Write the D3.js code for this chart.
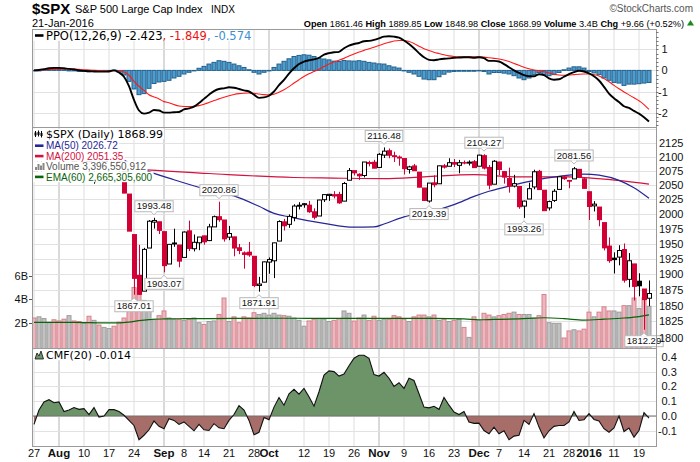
<!DOCTYPE html>
<html><head><meta charset="utf-8">
<script src="https://cdn.jsdelivr.net/npm/d3@7"></script>
<style>body{margin:0;background:#fff}svg{display:block}</style>
</head><body>
<svg id="chart" width="700" height="462"></svg>
<script>
const dates = [
"2015-07-27","2015-07-28","2015-07-29","2015-07-30","2015-07-31",
"2015-08-03","2015-08-04","2015-08-05","2015-08-06","2015-08-07","2015-08-10","2015-08-11","2015-08-12","2015-08-13","2015-08-14","2015-08-17","2015-08-18","2015-08-19","2015-08-20","2015-08-21","2015-08-24","2015-08-25","2015-08-26","2015-08-27","2015-08-28","2015-08-31",
"2015-09-01","2015-09-02","2015-09-03","2015-09-04","2015-09-08","2015-09-09","2015-09-10","2015-09-11","2015-09-14","2015-09-15","2015-09-16","2015-09-17","2015-09-18","2015-09-21","2015-09-22","2015-09-23","2015-09-24","2015-09-25","2015-09-28","2015-09-29","2015-09-30",
"2015-10-01","2015-10-02","2015-10-05","2015-10-06","2015-10-07","2015-10-08","2015-10-09","2015-10-12","2015-10-13","2015-10-14","2015-10-15","2015-10-16","2015-10-19","2015-10-20","2015-10-21","2015-10-22","2015-10-23","2015-10-26","2015-10-27","2015-10-28","2015-10-29","2015-10-30",
"2015-11-02","2015-11-03","2015-11-04","2015-11-05","2015-11-06","2015-11-09","2015-11-10","2015-11-11","2015-11-12","2015-11-13","2015-11-16","2015-11-17","2015-11-18","2015-11-19","2015-11-20","2015-11-23","2015-11-24","2015-11-25","2015-11-27","2015-11-30",
"2015-12-01","2015-12-02","2015-12-03","2015-12-04","2015-12-07","2015-12-08","2015-12-09","2015-12-10","2015-12-11","2015-12-14","2015-12-15","2015-12-16","2015-12-17","2015-12-18","2015-12-21","2015-12-22","2015-12-23","2015-12-24","2015-12-28","2015-12-29","2015-12-30","2015-12-31",
"2016-01-04","2016-01-05","2016-01-06","2016-01-07","2016-01-08","2016-01-11","2016-01-12","2016-01-13","2016-01-14","2016-01-15","2016-01-19","2016-01-20","2016-01-21"];

const open = [2078.19,2070.75,2094.70,2106.78,2111.60,
2104.49,2097.68,2095.27,2100.75,2082.61,2080.98,2102.66,2081.10,2086.19,2083.15,2089.70,2101.99,2095.69,2076.61,2034.08,1965.15,1898.08,1872.75,1942.77,1986.06,1986.73,
1970.09,1916.52,1950.79,1947.76,1927.30,1971.45,1941.59,1951.45,1963.06,1955.10,1978.02,1995.33,1989.66,1960.84,1961.39,1943.24,1934.81,1935.93,1929.18,1881.90,1887.14,
1919.65,1921.77,1954.33,1986.63,1982.34,1994.01,2013.73,2015.65,2015.00,2003.66,1996.47,2024.37,2031.73,2033.13,2033.47,2021.88,2058.19,2075.08,2068.75,2066.48,2088.35,2090.00,
2080.76,2102.63,2110.60,2101.68,2098.60,2096.56,2077.19,2083.41,2072.29,2044.64,2022.08,2053.67,2051.99,2083.70,2082.82,2089.41,2084.42,2089.30,2088.82,2090.95,
2082.93,2101.71,2080.71,2051.24,2090.42,2073.39,2061.17,2047.93,2047.27,2013.37,2025.55,2046.50,2073.76,2040.81,2010.27,2023.15,2042.20,2063.52,2057.77,2060.54,2077.34,2060.59,
2038.20,2013.78,2011.71,1985.32,1945.97,1926.12,1927.83,1940.34,1891.68,1916.68,1888.66,1876.18,1861.46];
const high = [2078.19,2095.60,2110.60,2110.48,2114.24,
2105.70,2102.51,2112.66,2103.32,2082.61,2105.35,2102.66,2089.06,2092.93,2092.45,2102.87,2103.47,2096.17,2076.61,2034.08,1965.15,1948.04,1943.09,1989.60,1993.48,1986.73,
1970.09,1948.91,1975.01,1947.76,1970.42,1988.63,1965.29,1961.05,1963.06,1983.19,1997.26,2020.86,1989.66,1979.64,1961.39,1949.52,1937.17,1952.89,1929.18,1895.68,1920.53,
1927.21,1951.36,1989.17,1991.62,1999.31,2016.50,2020.13,2018.66,2022.34,2009.56,2024.15,2033.54,2034.45,2039.12,2037.97,2055.20,2079.74,2075.14,2070.37,2090.35,2092.52,2094.32,
2106.20,2116.48,2114.59,2108.78,2101.91,2096.56,2083.67,2086.94,2072.29,2044.64,2053.22,2066.69,2083.58,2086.74,2097.06,2095.61,2094.12,2093.00,2093.29,2093.81,
2103.37,2104.27,2085.00,2093.84,2090.42,2073.85,2080.33,2067.65,2047.27,2022.92,2053.87,2076.72,2076.37,2040.81,2022.90,2042.74,2064.73,2067.36,2057.77,2081.56,2077.34,2062.54,
2038.20,2021.94,2011.71,1985.32,1960.40,1935.65,1947.38,1950.33,1934.47,1916.68,1901.44,1876.18,1889.85];
const low = [2063.52,2069.09,2094.08,2094.97,2102.07,
2087.31,2088.60,2095.27,2075.53,2067.91,2080.98,2076.49,2052.09,2078.26,2080.61,2079.30,2094.14,2070.53,2035.73,1970.89,1867.01,1867.08,1872.75,1942.77,1975.19,1965.98,
1903.07,1916.52,1944.72,1911.21,1927.30,1937.88,1937.19,1939.19,1948.27,1954.30,1977.93,1986.73,1953.45,1955.80,1929.22,1932.57,1908.92,1928.35,1879.21,1871.91,1887.14,
1900.70,1893.70,1954.33,1971.99,1976.44,1987.53,2007.61,2010.55,2001.78,1990.73,1996.47,2020.46,2022.31,2026.61,2017.22,2021.88,2058.19,2066.53,2058.84,2063.11,2082.63,2079.34,
2080.76,2097.51,2096.98,2090.41,2083.74,2068.24,2069.91,2074.85,2045.66,2022.02,2019.39,2045.90,2051.99,2078.76,2082.82,2081.39,2070.29,2086.30,2084.13,2080.41,
2082.93,2077.11,2042.35,2051.24,2066.78,2052.32,2036.53,2045.67,2008.80,1993.26,2025.55,2042.43,2041.66,2005.33,2005.93,2020.49,2042.20,2058.73,2044.20,2060.54,2061.97,2043.62,
1989.68,2004.17,1979.05,1938.83,1918.46,1901.10,1914.35,1886.41,1878.93,1857.83,1864.60,1812.29,1848.98];
const close = [2067.64,2093.25,2108.57,2108.63,2103.84,
2098.04,2093.32,2099.84,2083.56,2077.57,2104.18,2084.07,2086.05,2083.39,2091.54,2102.44,2096.92,2079.61,2035.73,1970.89,1893.21,1867.61,1940.51,1987.66,1988.87,1972.18,
1913.85,1948.86,1951.13,1921.22,1969.41,1942.04,1952.29,1961.05,1953.03,1978.09,1995.31,1990.20,1958.03,1966.97,1942.74,1938.76,1932.24,1931.34,1881.77,1884.09,1920.03,
1923.82,1951.36,1987.05,1979.92,1995.83,2013.43,2014.89,2017.46,2003.69,1994.24,2023.86,2033.11,2033.66,2030.77,2018.94,2052.51,2075.15,2071.18,2065.89,2090.35,2089.41,2079.36,
2104.05,2109.79,2102.31,2099.93,2099.20,2078.58,2081.72,2075.00,2045.97,2023.04,2053.19,2050.44,2083.58,2081.24,2089.17,2086.59,2089.14,2088.87,2090.11,2080.41,
2102.63,2079.51,2049.62,2091.69,2077.07,2063.59,2047.62,2052.23,2012.37,2021.94,2043.41,2073.07,2041.89,2005.55,2021.15,2038.97,2064.29,2060.99,2056.50,2078.36,2063.36,2043.94,
2012.66,2016.71,1990.26,1943.09,1922.03,1923.67,1938.68,1890.28,1921.84,1880.33,1881.33,1859.33,1868.99];
const prevClose = 2079.65;

// volume in billions
const volume = [2.4,2.5,2.35,2.0,2.25,2.15,2.3,2.6,2.15,2.1,
1.95,2.55,2.2,1.8,1.6,1.5,1.7,2.05,2.4,3.3,
5.0,4.9,3.9,3.2,2.3,2.6,3.0,2.4,2.3,2.3,
2.2,2.3,2.4,2.0,1.85,2.1,2.15,2.7,4.1,2.1,
2.5,2.0,2.5,2.4,2.85,2.7,2.8,2.65,2.8,2.65,
2.6,2.55,2.4,2.2,1.7,2.15,2.3,2.35,2.3,2.1,
2.2,2.35,3.0,2.8,2.14,2.4,2.65,2.2,2.55,2.2,
2.3,2.3,2.6,2.5,2.3,2.1,2.5,2.65,2.65,2.5,
2.65,2.2,2.3,2.1,2.2,2.3,1.6,0.75,2.5,2.2,
2.8,2.65,2.5,2.6,2.7,2.8,2.9,2.7,2.7,2.7,
2.4,2.6,4.4,2.0,1.95,1.95,0.7,1.3,1.4,1.3,
1.45,2.9,2.5,2.9,3.35,3.0,3.0,2.9,3.45,3.45,
4.1,3.2,4.1,3.4];
const volEmaIdx = [0,8,14,17,19,21,23,26,30,40,50,60,70,80,86,89,92,97,102,106,110,114,118,121,123];
const volEmaVal = [2.02,2.02,1.98,1.98,2.05,2.18,2.27,2.32,2.34,2.36,2.38,2.36,2.36,2.37,2.33,2.25,2.28,2.33,2.42,2.35,2.22,2.3,2.4,2.52,2.67];

const ma50Idx = [0,10,17,21,28,35,40,45,48,51,58,64,68,70,74,79,84,88,91,96,100,105,110,113,117,120,123];
const ma50Val = [2100,2099,2096,2080,2059,2041,2031,2013,2001,1995,1984,1977.5,1978,1983,1995,2003,2016,2030,2039,2050,2058,2065,2069,2067,2058,2045,2026.72];
const ma200Idx = [0,10,21,35,52,60,70,78,88,97,107,114,123];
const ma200Val = [2080,2080,2077,2070,2063,2062,2061,2064,2068,2064,2064,2060,2051.35];

const ppoLine = [0.0,0.02,0.06,0.1,0.12,0.12,0.1,0.07,0.05,0.0,
-0.02,-0.04,-0.05,-0.06,-0.06,-0.05,0.0,-0.1,-0.3,-0.75,
-1.4,-1.9,-2.05,-2.0,-1.88,-1.9,-2.0,-2.0,-1.98,-1.97,
-1.85,-1.8,-1.72,-1.55,-1.35,-1.15,-0.98,-0.88,-0.85,-0.8,
-0.82,-0.88,-0.95,-1.0,-1.15,-1.3,-1.28,-1.2,-1.0,-0.7,
-0.45,-0.15,0.1,0.3,0.42,0.48,0.52,0.6,0.75,0.82,
0.86,0.88,1.05,1.18,1.25,1.3,1.38,1.4,1.45,1.52,
1.6,1.62,1.6,1.55,1.42,1.25,1.05,0.82,0.62,0.5,
0.48,0.52,0.55,0.57,0.6,0.61,0.62,0.62,0.6,0.62,
0.58,0.45,0.45,0.42,0.3,0.15,0.0,-0.12,-0.22,-0.27,
-0.28,-0.18,-0.22,-0.38,-0.44,-0.42,-0.3,-0.18,-0.08,-0.02,
-0.05,-0.14,-0.28,-0.48,-0.78,-1.1,-1.32,-1.5,-1.7,-1.78,
-1.92,-2.05,-2.22,-2.423];
const ppoSignal = [0.02,0.02,0.03,0.04,0.06,0.07,0.07,0.07,0.07,0.05,
0.03,0.02,0.0,-0.01,-0.02,-0.02,-0.02,-0.02,-0.08,-0.23,
-0.52,-0.75,-0.95,-1.15,-1.26,-1.35,-1.48,-1.53,-1.62,-1.69,
-1.71,-1.71,-1.7,-1.67,-1.6,-1.52,-1.43,-1.35,-1.27,-1.2,
-1.14,-1.1,-1.08,-1.07,-1.08,-1.12,-1.15,-1.16,-1.13,-1.04,
-0.92,-0.77,-0.6,-0.44,-0.29,-0.16,-0.05,0.06,0.18,0.3,
0.4,0.48,0.57,0.68,0.78,0.87,0.95,1.03,1.1,1.18,
1.26,1.33,1.39,1.42,1.42,1.37,1.28,1.14,1.03,0.94,
0.86,0.8,0.74,0.69,0.66,0.65,0.65,0.65,0.64,0.64,
0.63,0.6,0.57,0.54,0.49,0.42,0.33,0.24,0.15,0.08,
0.02,-0.02,-0.06,-0.12,-0.18,-0.22,-0.23,-0.22,-0.2,-0.18,
-0.17,-0.17,-0.2,-0.26,-0.39,-0.54,-0.71,-0.87,-1.02,-1.16,
-1.3,-1.44,-1.62,-1.849];
const ppoHist = [-0.02,0,0.03,0.06,0.06,0.05,0.03,0,-0.02,-0.05,
-0.05,-0.06,-0.05,-0.05,-0.04,-0.03,0.02,-0.08,-0.22,-0.52,
-0.88,-1.15,-1.1,-0.85,-0.62,-0.55,-0.52,-0.47,-0.36,-0.28,
-0.17,-0.09,-0.02,0.1,0.19,0.3,0.38,0.46,0.43,0.38,
0.3,0.22,0.14,0.03,-0.09,-0.17,-0.09,-0.02,0.14,0.3,
0.43,0.55,0.66,0.71,0.74,0.72,0.66,0.56,0.54,0.5,
0.44,0.42,0.47,0.45,0.44,0.46,0.43,0.38,0.35,0.31,
0.3,0.22,0.16,0.11,0,-0.09,-0.17,-0.28,-0.41,-0.44,
-0.44,-0.3,-0.18,-0.08,-0.05,-0.04,-0.04,-0.04,-0.04,-0.02,
-0.05,-0.17,-0.1,-0.1,-0.13,-0.17,-0.25,-0.36,-0.44,-0.36,
-0.2,-0.1,-0.2,-0.25,-0.2,-0.1,0.03,0.11,0.17,0.17,
0.11,-0.05,-0.12,-0.2,-0.36,-0.47,-0.57,-0.6,-0.71,-0.65,
-0.65,-0.63,-0.6,-0.574];

const cmf = [-0.057,0.04,0.095,0.11,0.09,0.095,0.03,0.04,0.057,0.045,
0.05,0.01,0.057,-0.007,0.0,0.043,0.043,0.03,0.005,-0.03,
-0.064,-0.16,-0.13,-0.093,-0.034,-0.07,-0.086,-0.018,-0.03,-0.057,
-0.04,-0.07,-0.1,-0.057,-0.093,-0.098,-0.052,-0.08,-0.086,-0.03,
0.01,0.07,0.04,-0.03,-0.127,-0.11,-0.01,-0.025,0.06,0.125,
0.073,0.15,0.18,0.148,0.186,0.13,0.066,0.164,0.277,0.305,
0.3,0.27,0.284,0.34,0.39,0.41,0.41,0.39,0.28,0.27,
0.295,0.255,0.2,0.225,0.186,0.255,0.24,0.15,0.06,0.055,
0.066,0.045,0.125,0.073,0.027,0.01,0.03,-0.04,-0.05,-0.048,
-0.098,-0.12,-0.075,-0.12,-0.1,-0.16,-0.136,-0.13,-0.03,-0.057,
0.016,-0.075,-0.148,-0.1,-0.07,-0.064,-0.064,-0.04,0.03,-0.03,
-0.025,0.016,-0.023,-0.034,-0.086,-0.11,-0.08,0.0,-0.105,-0.082,
-0.143,-0.098,0.023,-0.014];

const priceTicks = [1800,1825,1850,1875,1900,1925,1950,1975,2000,2025,2050,2075,2100,2125];
const priceGrid = [1800,1825,1850,1875,1900,1925,1950,1975,2000,2025,2050,2075,2100,2125,2150];
const volTicks = [2,4,6];
const ppoTicks = [-2,-1,0,1];
const cmfTicks = [-0.1,0,0.1,0.2,0.3,0.4];
const xTickDates = ["2015-07-27","2015-08-03","2015-08-10","2015-08-17","2015-08-24","2015-09-01","2015-09-08","2015-09-14","2015-09-21","2015-09-28","2015-10-01","2015-10-12","2015-10-19","2015-10-26","2015-11-02","2015-11-09","2015-11-16","2015-11-23","2015-12-01","2015-12-07","2015-12-14","2015-12-21","2015-12-28","2016-01-04","2016-01-11","2016-01-19"];
const xTickLabels = ["27","Aug","10","17","24","Sep","8","14","21","28","Oct","12","19","26","Nov","9","16","23","Dec","7","14","21","28","2016","11","19"];
const xTickMajor = [false,true,false,false,false,true,false,false,false,false,true,false,false,false,true,false,false,false,true,false,false,false,false,true,false,false];
const annotations = [["2015-08-24","low"],["2015-08-28","high"],["2015-09-01","low"],["2015-09-17","high"],["2015-09-29","low"],["2015-11-03","high"],["2015-11-16","low"],["2015-12-02","high"],["2015-12-14","low"],["2015-12-29","high"],["2016-01-20","low"]];

// ---------- drawing ----------
const FA = "'Liberation Sans', Arial, sans-serif";
const FN = "'Liberation Sans Narrow', 'Arial Narrow', 'Liberation Sans', Arial, sans-serif";
const FV = "'DejaVu Sans', Verdana, sans-serif";
const L = 32, R = 656;
const P = {ppoT:29, ppoB:127, mainT:127, mainB:348, cmfT:348, cmfB:446};
const RED = "#d10035", NAVY = "#262696", CRIM = "#d2123f";

const svg = d3.select("#chart");
const x = d3.scalePoint().domain(dates).range([34, 649]);
const xi = i => x(dates[i]);
const yP = d3.scaleLog().domain([1800, 2125]).range([337.7, 142.7]);
const yV = d3.scaleLinear().domain([0, 6]).range([346.2, 275.7]);
const yO = d3.scaleLinear().domain([-2, 1]).range([112.6, 49.3]);
const yC = d3.scaleLinear().domain([-0.1, 0.4]).range([430.8, 356.8]);

const defs = svg.append("defs");
function clip(id, x0, y0, w, h) {
  defs.append("clipPath").attr("id", id).append("rect").attr("x", x0).attr("y", y0).attr("width", w).attr("height", h);
}
clip("cPPO", L, P.ppoT, R - L, P.ppoB - P.ppoT);
clip("cMain", L, P.mainT, R - L, P.mainB - P.mainT);
clip("cCMF", L, P.cmfT, R - L, P.cmfB - P.cmfT);
clip("cCMFpos", L, P.cmfT, R - L, yC(0) - P.cmfT);
clip("cCMFneg", L, yC(0), R - L, P.cmfB - yC(0));

// header
const hd = svg.append("g");
hd.append("text").attr("x", 32).attr("y", 14).attr("font-family", FA).attr("font-weight", "bold").attr("font-size", 15).text("$SPX");
hd.append("text").attr("x", 75).attr("y", 13).attr("font-family", FA).attr("font-size", 11).text("S&P 500 Large Cap Index");
hd.append("text").attr("x", 211).attr("y", 13).attr("font-family", FA).attr("font-size", 10).text("INDX");
hd.append("text").attr("x", 693).attr("y", 12).attr("text-anchor", "end").attr("font-family", FA).attr("font-size", 10).attr("fill", "#555").text("\u00A9StockCharts.com");
hd.append("text").attr("x", 32).attr("y", 27).attr("font-family", FA).attr("font-size", 11).text("21-Jan-2016");
const n = close.length - 1;
const chg = close[n] - close[n - 1];
const t2 = hd.append("text").attr("x", 684).attr("y", 27).attr("text-anchor", "end").attr("font-family", FN).attr("font-size", 11);
[["Open ", true], [open[n].toFixed(2) + " ", false], ["High ", true], [high[n].toFixed(2) + " ", false],
 ["Low ", true], [low[n].toFixed(2) + " ", false], ["Close ", true], [close[n].toFixed(2) + " ", false],
 ["Volume ", true], [volume[n].toFixed(1) + "B ", false], ["Chg ", true],
 [(chg >= 0 ? "+" : "") + chg.toFixed(2) + " (" + (chg >= 0 ? "+" : "") + (chg / close[n - 1] * 100).toFixed(2) + "%)", false]]
  .forEach(([s, b]) => t2.append("tspan").attr("font-weight", b ? "bold" : "normal").text(s));
const w2 = t2.node().getComputedTextLength();
if (w2 > 390) t2.attr("font-size", (11 * 381 / w2).toFixed(2));
hd.append("path").attr("d", "M687,25.5 L690.5,20 L694,25.5 Z").attr("fill", "#1a8a1a");

// gridlines
const grid = svg.append("g");
[[P.ppoT, P.ppoB], [P.mainT, P.mainB], [P.cmfT, P.cmfB]].forEach(([t, b]) => {
  xTickDates.forEach((d, k) => {
    grid.append("line").attr("x1", x(d)).attr("x2", x(d)).attr("y1", t).attr("y2", b)
      .attr("stroke", xTickMajor[k] ? "#b4b4b4" : "#dedede").attr("stroke-width", 1);
  });
});
priceGrid.forEach(v => grid.append("line").attr("x1", L).attr("x2", R).attr("y1", Math.round(yP(v)) + 0.5).attr("y2", Math.round(yP(v)) + 0.5).attr("stroke", "#e2e2e2").attr("clip-path", "url(#cMain)"));
ppoTicks.forEach(v => grid.append("line").attr("x1", L).attr("x2", R).attr("y1", Math.round(yO(v)) + 0.5).attr("y2", Math.round(yO(v)) + 0.5).attr("stroke", "#e2e2e2"));
cmfTicks.forEach(v => grid.append("line").attr("x1", L).attr("x2", R).attr("y1", Math.round(yC(v)) + 0.5).attr("y2", Math.round(yC(v)) + 0.5).attr("stroke", "#e2e2e2"));

// ---------- PPO panel ----------
const gp = svg.append("g").attr("clip-path", "url(#cPPO)");
gp.selectAll("rect.h").data(ppoHist).enter().append("rect")
  .attr("x", (d, i) => xi(i) - 2).attr("width", 4)
  .attr("y", d => Math.min(yO(0), yO(d))).attr("height", d => Math.max(0.5, Math.abs(yO(d) - yO(0))))
  .attr("fill", "#4f9dcc").attr("stroke", "#21618f").attr("stroke-width", 1);
gp.append("path").datum(ppoSignal).attr("d", d3.line().x((d, i) => xi(i)).y(d => yO(d)).curve(d3.curveMonotoneX))
  .attr("fill", "none").attr("stroke", "#ff1a1a").attr("stroke-width", 1.1);
gp.append("path").datum(ppoLine).attr("d", d3.line().x((d, i) => xi(i)).y(d => yO(d)).curve(d3.curveMonotoneX))
  .attr("fill", "none").attr("stroke", "#000").attr("stroke-width", 1.9);

// ---------- Main panel ----------
const gm = svg.append("g").attr("clip-path", "url(#cMain)");
const isDown = i => close[i] < (i ? close[i - 1] : prevClose);
gm.selectAll("rect.v").data(volume).enter().append("rect")
  .attr("x", (d, i) => xi(i) - 2).attr("width", 4)
  .attr("y", d => yV(d)).attr("height", d => P.mainB + 2 - yV(d))
  .attr("fill", (d, i) => isDown(i) ? "#eab8bf" : "#c2c2c2")
  .attr("stroke", (d, i) => isDown(i) ? "#d9808c" : "#9c9c9c").attr("stroke-width", 1);
gm.append("path").datum(volEmaVal).attr("d", d3.line().x((d, k) => xi(volEmaIdx[k])).y(d => yV(d)).curve(d3.curveMonotoneX))
  .attr("fill", "none").attr("stroke", "#0a640a").attr("stroke-width", 1.2);
gm.append("path").datum(ma200Val).attr("d", d3.line().x((d, k) => xi(ma200Idx[k])).y(d => yP(d)).curve(d3.curveMonotoneX))
  .attr("fill", "none").attr("stroke", CRIM).attr("stroke-width", 1.2);
gm.append("path").datum(ma50Val).attr("d", d3.line().x((d, k) => xi(ma50Idx[k])).y(d => yP(d)).curve(d3.curveMonotoneX))
  .attr("fill", "none").attr("stroke", NAVY).attr("stroke-width", 1.2);

// candles
const gc = gm.append("g");
dates.forEach((d, i) => {
  const col = isDown(i) ? RED : "#000";
  const cx = Math.round(xi(i)) + 0.5;
  gc.append("line").attr("x1", cx).attr("x2", cx).attr("y1", yP(high[i])).attr("y2", yP(low[i])).attr("stroke", col).attr("stroke-width", 1);
  const top = yP(Math.max(open[i], close[i])), bot = yP(Math.min(open[i], close[i]));
  const hollow = close[i] > open[i];
  if (hollow) {
    gc.append("rect").attr("x", cx - 2).attr("width", 4).attr("y", top).attr("height", Math.max(1, bot - top))
      .attr("fill", "#fff").attr("stroke", col).attr("stroke-width", 1);
  } else {
    gc.append("rect").attr("x", cx - 2.5).attr("width", 5).attr("y", top - 0.5).attr("height", Math.max(1.5, bot - top + 1))
      .attr("fill", col);
  }
});

// annotations
const ga = svg.append("g");
annotations.forEach(([d, type]) => {
  const i = dates.indexOf(d);
  const v = type === "high" ? high[i] : low[i];
  const cx = xi(i);
  const txt = ga.append("text").attr("font-family", FA).attr("font-size", 9.5).attr("text-anchor", "middle").text(v.toFixed(2));
  const w = txt.node().getComputedTextLength() + 4, h = 11;
  const by = type === "high" ? yP(v) - 6 - h : yP(v) + 6;
  const bx = cx - w / 2;
  ga.insert("rect", "text").attr("x", bx).attr("y", by).attr("width", w).attr("height", h).attr("fill", "#fff").attr("stroke", "#b8b8b8");
  const e = type === "high" ? by + h : by;
  const s = type === "high" ? 3 : -3;
  ga.insert("path", "text").attr("d", `M${cx - 3},${e} L${cx},${e + s} L${cx + 3},${e}`).attr("fill", "#fff").attr("stroke", "#b8b8b8");
  ga.insert("line", "text").attr("x1", cx - 2.3).attr("x2", cx + 2.3).attr("y1", e).attr("y2", e).attr("stroke", "#fff").attr("stroke-width", 1.2);
  txt.attr("x", cx).attr("y", by + 8.6).attr("fill", "#111");
});

// ---------- CMF panel ----------
const gcm = svg.append("g").attr("clip-path", "url(#cCMF)");
const ar = d3.area().x((d, i) => xi(i)).y0(yC(0)).y1(d => yC(d));
gcm.append("path").datum(cmf).attr("d", ar).attr("fill", "#6d9468").attr("clip-path", "url(#cCMFpos)");
gcm.append("path").datum(cmf).attr("d", ar).attr("fill", "#a66d69").attr("clip-path", "url(#cCMFneg)");
gcm.append("line").attr("x1", L).attr("x2", R).attr("y1", yC(0)).attr("y2", yC(0)).attr("stroke", "#707070").attr("stroke-width", 1.2);
gcm.append("path").datum(cmf).attr("d", d3.line().x((d, i) => xi(i)).y(d => yC(d))).attr("fill", "none").attr("stroke", "#111").attr("stroke-width", 1.1);

// ---------- borders ----------
[[P.ppoT, P.ppoB], [P.mainT, P.mainB], [P.cmfT, P.cmfB]].forEach(([t, b]) => {
  svg.append("rect").attr("x", L + 0.5).attr("y", t + 0.5).attr("width", R - L).attr("height", b - t).attr("fill", "none").attr("stroke", "#9a9a9a");
});

// ---------- axes ----------
const ax = svg.append("g").attr("font-family", FA).attr("font-size", 11).attr("fill", "#111");
priceTicks.forEach(v => ax.append("text").attr("x", 659).attr("y", yP(v) + 4).text(v));
function signedLabel(v, y, fmt) {
  const s = fmt(v);
  ax.append("text").attr("x", v < 0 ? 658 : 661.5).attr("y", y + 4).text(s);
}
ppoTicks.forEach(v => signedLabel(v, yO(v), d => d3.format("d")(d).replace("\u2212", "-")));
cmfTicks.forEach(v => signedLabel(v, yC(v), d => d3.format(".1f")(d).replace("\u2212", "-")));
d3.range(-2.6, 1.81, 0.2).forEach(v => {
  const y = Math.round(yO(v)) + 0.5;
  if (y > P.ppoT && y < P.ppoB) svg.append("line").attr("x1", R).attr("x2", R + 2.5).attr("y1", y).attr("y2", y).attr("stroke", "#777");
});
volTicks.forEach(v => {
  ax.append("text").attr("x", 28).attr("y", yV(v) + 4).attr("text-anchor", "end").text(v + "B");
  svg.append("line").attr("x1", 29).attr("x2", L).attr("y1", Math.round(yV(v)) + 0.5).attr("y2", Math.round(yV(v)) + 0.5).attr("stroke", "#555");
});
xTickDates.forEach((d, k) => {
  ax.append("text").attr("x", x(d)).attr("y", 457).attr("text-anchor", "middle")
    .attr("font-weight", xTickMajor[k] ? "bold" : "normal").attr("font-size", xTickMajor[k] ? 11.5 : 11).text(xTickLabels[k]);
});

// ---------- legends ----------
const gl = svg.append("g");
function row(yc, font, size, parts, icon) {
  const t = gl.append("text").attr("x", 46).attr("y", yc + size * 0.36).attr("font-family", font).attr("font-size", size);
  parts.forEach(([s, c]) => t.append("tspan").attr("fill", c).text(s));
  const bb = t.node().getBBox();
  gl.insert("rect", "text").attr("x", L + 1).attr("y", yc - 5.3).attr("width", bb.x + bb.width - L).attr("height", 10.6).attr("fill", "#fff");
  icon(yc);
}
const lineIcon = c => yc => gl.append("line").attr("x1", 35).attr("x2", 43.5).attr("y1", yc).attr("y2", yc).attr("stroke", c).attr("stroke-width", 2.6);
const f3 = d3.format(".3f");
const fmtS = v => f3(v).replace("\u2212", "-");
row(35.5, FV, 11.5, [["PPO(12,26,9) " + fmtS(ppoLine[n]), "#000"], [", " + fmtS(ppoSignal[n]), "#ee1111"], [", " + fmtS(ppoHist[n]), "#3a8fd0"]], lineIcon("#000"));
row(134, FV, 11, [["$SPX (Daily) " + close[n].toFixed(2), "#000"]], yc => {
  [[35.5, -3, 3, -1.5, 1.5], [38.5, -3.5, 2.5, -2, 1], [41.5, -3, 3.5, -1, 2]].forEach(([cx, h1, h2, b1, b2]) => {
    gl.append("line").attr("x1", cx).attr("x2", cx).attr("y1", yc + h1).attr("y2", yc + h2).attr("stroke", "#000");
    gl.append("rect").attr("x", cx - 1).attr("y", yc + b1).attr("width", 2).attr("height", b2 - b1).attr("fill", "#000");
  });
});
row(145.7, FA, 10, [["MA(50) " + ma50Val[ma50Val.length - 1].toFixed(2), NAVY]], lineIcon(NAVY));
row(156.1, FA, 10, [["MA(200) " + ma200Val[ma200Val.length - 1].toFixed(2), CRIM]], lineIcon(CRIM));
row(166.5, FA, 10, [["Volume 3,396,550,912", "#555"]], yc => {
  [[35, 3], [37.5, 6], [40, 4.5], [42.5, 7]].forEach(([bx, h]) => gl.append("rect").attr("x", bx).attr("y", yc + 3.5 - h).attr("width", 2).attr("height", h).attr("fill", "#888"));
});
row(176.9, FA, 10, [["EMA(60) 2,665,305,600", "#0a640a"]], lineIcon("#0a640a"));
row(355, FV, 11, [["CMF(20) " + fmtS(cmf[n]), "#000"]], yc => {
  gl.append("path").attr("d", `M35,${yc + 4} L37,${yc - 2} L39,${yc + 1} L41,${yc - 4} L43.5,${yc + 4} Z`).attr("fill", "#6d9468").attr("stroke", "#111").attr("stroke-width", 0.8);
});
</script>
</body></html>
